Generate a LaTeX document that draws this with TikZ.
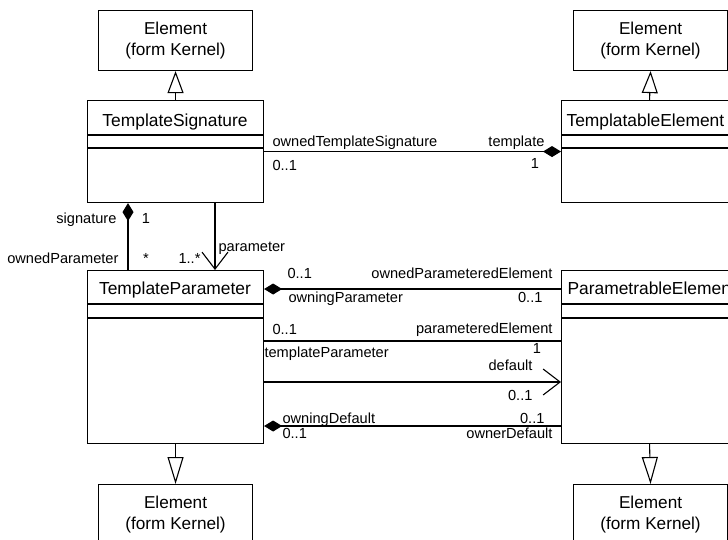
\documentclass[tikz,border=0pt]{standalone}
\usepackage{fontspec}
\setmainfont{Liberation Sans}
\usetikzlibrary{arrows.meta}
\begin{document}
\begin{tikzpicture}[x=1pt,y=-1pt, line width=1.1pt,
  box/.style={draw, line width=1.1pt, inner sep=0pt, anchor=north west},
  elem/.style={box, minimum width=154pt, minimum height=60pt, align=center, font=\fontsize{17.2}{21.5}\selectfont},
  cls/.style={box, minimum width=176pt},
  cname/.style={font=\fontsize{17.4}{20}\selectfont, inner sep=0pt},
  lbl/.style={font=\fontsize{14.6}{17}\selectfont, inner sep=0pt},
  comp/.style={{Diamond[length=18pt,width=11pt]}-},
  gen/.style={-{Triangle[open,length=22pt,width=16pt]}},
  genb/.style={-{Triangle[open,length=27pt,width=16pt]}},
  nav/.style={-{Straight Barb[length=17pt,width=26pt]}},
]
\useasboundingbox (0,0) rectangle (728,539);
\clip (0,0) rectangle (728,539);

% Element boxes
\node[elem] (e1) at (98,10) {Element\\(form Kernel)};
\node[elem] (e2) at (573,10) {Element\\(form Kernel)};
\node[elem] (e3) at (98,484) {Element\\(form Kernel)};
\node[elem] (e4) at (573,484) {Element\\(form Kernel)};

% Class boxes
\node[cls, minimum height=102pt] (ts) at (87,100) {};
\node[cls, minimum height=102pt] (te) at (561,100) {};
\node[cls, minimum height=173pt] (tp) at (87,270) {};
\node[cls, minimum height=173pt] (pe) at (561,270) {};

\node[cname, anchor=base] (tsn) at (175,126) {TemplateSignature};
\node[cname, anchor=base west] (ten) at (566,126) {TemplatableElement};
\node[cname, anchor=base] (tpn) at (175,294) {TemplateParameter};
\node[cname, anchor=base west] (pen) at (567,294) {ParametrableElement};

% compartments
\draw (ts.north west) ++(0,35) -- ++(176,0);
\draw (ts.north west) ++(0,48) -- ++(176,0);
\draw (te.north west) ++(0,35) -- ++(176,0);
\draw (te.north west) ++(0,48) -- ++(176,0);
\draw (tp.north west) ++(0,34) -- ++(176,0);
\draw (tp.north west) ++(0,48) -- ++(176,0);
\draw (pe.north west) ++(0,34) -- ++(176,0);
\draw (pe.north west) ++(0,48) -- ++(176,0);

% generalizations
\draw[gen] (ts.north) -- (e1.south);
\draw[gen] (te.north) -- (e2.south);
\draw[genb] (tp.south) -- (e3.north);
\draw[genb] (pe.south) -- (e4.north);

% associations
\draw[comp] (te.west) -- (ts.east);
\draw[comp] ([xshift=41pt]ts.south west) -- ([xshift=41pt]tp.north west);
\draw[nav] ([xshift=128pt]ts.south west) -- ([xshift=128pt]tp.north west);
\draw[comp] ([yshift=-19pt]tp.north east) -- ([yshift=-19pt]pe.north west);
\draw ([yshift=-71pt]tp.north east) -- ([yshift=-71pt]pe.north west);
\draw[nav] ([yshift=-112pt]tp.north east) -- ([yshift=-112pt]pe.north west);
\draw[comp] ([yshift=-156pt]tp.north east) -- ([yshift=-156pt]pe.north west);

% labels
\node[lbl, anchor=base west] (l1) at (272,146) {ownedTemplateSignature};
\node[lbl, anchor=base west] (l2) at (272,170) {0..1};
\node[lbl, anchor=base east] (l3) at (545,146) {template};
\node[lbl, anchor=base] (l4) at (535,168) {1};
\node[lbl, anchor=base east] (l5) at (117,223) {signature};
\node[lbl, anchor=base] (l6) at (146,223) {1};
\node[lbl, anchor=base east] (l7) at (119,263) {ownedParameter};
\node[lbl, anchor=base] (l8) at (146,263) {*};
\node[lbl, anchor=base west] (l9) at (178,263) {1..*};
\node[lbl, anchor=base west] (l10) at (218,251) {parameter};
\node[lbl, anchor=base west] (l11) at (287,278) {0..1};
\node[lbl, anchor=base west] (l12) at (288,302) {owningParameter};
\node[lbl, anchor=base east] (l13) at (553,278) {ownedParameteredElement};
\node[lbl, anchor=base east] (l14) at (543,302) {0..1};
\node[lbl, anchor=base west] (l15) at (272,334) {0..1};
\node[lbl, anchor=base east] (l16) at (553,333) {parameteredElement};
\node[lbl, anchor=base west] (l17) at (264,357) {templateParameter};
\node[lbl, anchor=base] (l18) at (537,353) {1};
\node[lbl, anchor=base east] (l19) at (533,370) {default};
\node[lbl, anchor=base east] (l20) at (533,400) {0..1};
\node[lbl, anchor=base west] (l21) at (282,423) {owningDefault};
\node[lbl, anchor=base west] (l22) at (282,438) {0..1};
\node[lbl, anchor=base east] (l23) at (545,423) {0..1};
\node[lbl, anchor=base east] (l24) at (553,438) {ownerDefault};
\end{tikzpicture}
\end{document}
